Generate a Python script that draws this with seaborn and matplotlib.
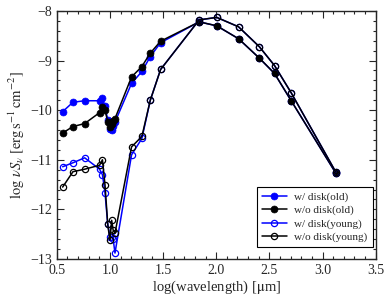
import numpy as np
import pandas as pd
import matplotlib
matplotlib.use("Agg")
import matplotlib.pyplot as plt
from matplotlib.ticker import MultipleLocator
import seaborn as sns

# log(wavelength/um) of the photometric points
log_wave = [0.556, 0.653, 0.763, 0.903, 0.93, 0.954, 0.98, 1.0, 1.017, 1.031, 1.048,
            1.204, 1.301, 1.38, 1.477, 1.84, 2.005, 2.21, 2.405, 2.548, 2.705, 3.125]

wdisk_old = [-10.03, -9.84, -9.81, -9.81, -9.76, -9.92, -10.2, -10.38, -10.4, -10.32, -10.24,
             -9.46, -9.22, -8.92, -8.64, -8.22, -8.30, -8.56, -8.95, -9.26, -9.81, -11.27]
wodisk_old = [-10.46, -10.33, -10.27, -10.05, -9.93, -10.0, -10.23, -10.33, -10.28, -10.22, -10.17,
              -9.33, -9.12, -8.85, -8.61, -8.22, -8.30, -8.56, -8.95, -9.26, -9.81, -11.27]
wdisk_young = [-11.14, -11.06, -10.96, -11.19, -11.3, -11.66, -12.3, -12.55, -12.55, -12.6, -12.88,
               -10.9, -10.57, -9.8, -9.18, -8.18, -8.13, -8.32, -8.72, -9.10, -9.65, -11.25]
wodisk_young = [-11.55, -11.24, -11.19, -11.11, -11.0, -11.5, -12.3, -12.62, -12.22, -12.42, -12.48,
                -10.74, -10.53, -9.8, -9.18, -8.18, -8.13, -8.32, -8.72, -9.10, -9.65, -11.25]

labels = ["w/ disk(old)", "w/o disk(old)", "w/ disk(young)", "w/o disk(young)"]

sns.set_style("ticks")
plt.rcParams['font.family'] = ['Liberation Serif', 'DejaVu Serif']
plt.rcParams['mathtext.fontset'] = 'stix'

fig = plt.figure(figsize=(3.91, 3.04), dpi=100)
ax = fig.add_axes([0.145, 0.148, 0.816, 0.816])

series = [(wdisk_old, "#0000ff", True), (wodisk_old, "black", True),
          (wdisk_young, "#0000ff", False), (wodisk_young, "black", False)]
for (vals, col, filled), lab in zip(series, labels):
    df = pd.DataFrame({"x": log_wave, "y": vals})
    sns.lineplot(data=df, x="x", y="y", ax=ax, color=col, lw=1.1, marker="o",
                 markersize=5 if filled else 4.5,
                 markerfacecolor=col if filled else "none",
                 markeredgecolor=col, markeredgewidth=0.9 if not filled else 0.5,
                 label=lab, sort=False, estimator=None)

ax.set_xlim(0.5, 3.5)
ax.set_ylim(-13, -8)
ax.xaxis.set_major_locator(MultipleLocator(0.5))
ax.xaxis.set_minor_locator(MultipleLocator(0.1))
ax.yaxis.set_major_locator(MultipleLocator(1))
ax.yaxis.set_minor_locator(MultipleLocator(0.2))
ax.tick_params(which="both", direction="in", top=True, right=True, labelsize=10, width=0.8)
ax.tick_params(which="major", length=5)
ax.tick_params(which="minor", length=2.5)
for s in ax.spines.values():
    s.set_linewidth(1.0)

ax.set_xlabel(r"log(wavelength) [$\mathrm{\mu}$m]", fontsize=10.5, labelpad=1)
ax.set_ylabel(r"$\log\,\nu S_\nu\ [\mathrm{erg\,s^{-1}\,cm^{-2}}]$", fontsize=10.5, labelpad=2)

leg = ax.legend(loc="lower right", fontsize=8, frameon=True, fancybox=False,
                edgecolor="black", framealpha=1, handlelength=2.2, borderpad=0.45,
                labelspacing=0.3, handletextpad=0.7, borderaxespad=0,
                bbox_to_anchor=(0.99, 0.048))
leg.get_frame().set_linewidth(0.8)

fig.savefig("out.png", dpi=100)
